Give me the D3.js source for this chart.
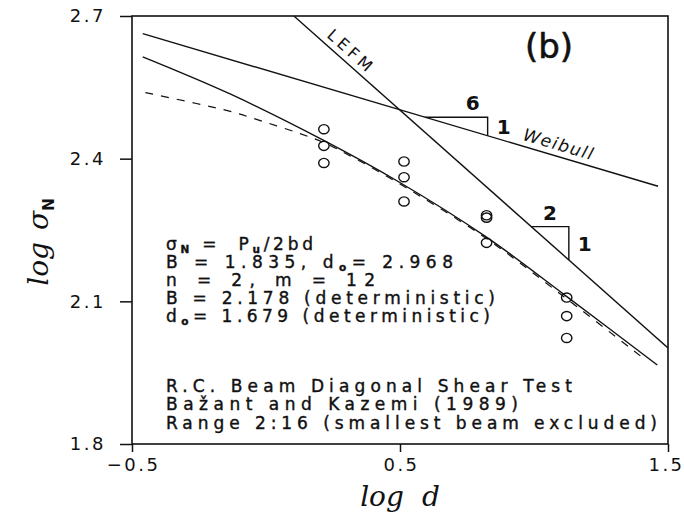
<!DOCTYPE html>
<html>
<head>
<meta charset="utf-8">
<script src="https://cdn.jsdelivr.net/npm/d3@7"></script>
<style>
  body { margin: 0; background: #fff; }
  svg { display: block; }
</style>
</head>
<body>
<svg id="chart" width="684" height="517"></svg>
<script>
// ---------------- data ----------------
const xTicks = [-0.5, 0.5, 1.5];
const yTicks = [1.8, 2.1, 2.4, 2.7];

// test data (log d, log sigma_N)
const beamLogD     = [0.216, 0.216, 0.216, 0.515, 0.515, 0.515, 0.823, 0.823, 0.823, 1.122, 1.122, 1.122];
const beamLogSigma = [2.462, 2.427, 2.391, 2.394, 2.361, 2.310, 2.281, 2.276, 2.223, 2.108, 2.069, 2.023];

// deterministic size effect law (solid curve)
const detLogD     = [-0.46, -0.13, 0.21, 0.49, 0.82, 1.12, 1.46];
const detLogSigma = [2.614, 2.535, 2.440, 2.353, 2.236, 2.111, 1.966];

// statistical fit (dashed curve)
const statLogD     = [-0.45, -0.26, -0.13, -0.01, 0.115, 0.215, 0.33, 0.49, 0.82, 1.12, 1.40];
const statLogSigma = [2.539, 2.516, 2.499, 2.478, 2.455, 2.434, 2.401, 2.350, 2.233, 2.106, 1.984];

// asymptotes
const weibullLogD     = [-0.46, 1.463];
const weibullLogSigma = [2.663, 2.342];
const lefmLogD        = [0.104, 1.5];
const lefmLogSigma    = [2.700, 2.002];

// slope triangles: horizontal leg from x0 to x1 on the given asymptote
const triLine   = ["weibull", "lefm"];
const triX0     = [0.593, 0.990];
const triX1     = [0.827, 1.130];
const triRun    = ["6", "2"];
const triRise   = ["1", "1"];

// annotation text
const noteTop = [
  [["σ"], ["N", "sub"], [" =  P"], ["u", "sub"], ["/2bd"]],
  [["B = 1.835, d"], ["o", "sub"], ["= 2.968"]],
  [["n = 2, m = 12"]],
  [["B = 2.178 (deterministic)"]],
  [["d"], ["o", "sub"], ["= 1.679 (deterministic)"]]
];
const noteBottom = [
  [["R.C. Beam Diagonal Shear Test"]],
  [["Bažant and Kazemi (1989)"]],
  [["Range 2:16 (smallest beam excluded)"]]
];
const panelLabel = "(b)";

// ---------------- layout ----------------
const L = 132, R = 668, T = 16, B = 444;
const noteX = 166;
const noteTopBase = [250, 268, 286, 304, 322];
const noteTopWidth = [147, 287, 209, 329, 324];
const noteBotBase = [392, 410, 429];
const noteBotWidth = [406, 352, 491];

const svg = d3.select("#chart");
const x = d3.scaleLinear().domain([-0.5, 1.5]).range([L, R]);
const y = d3.scaleLinear().domain([1.8, 2.7]).range([B, T]);

const ink = "#111";

// frame
svg.append("rect")
  .attr("x", L).attr("y", T).attr("width", R - L).attr("height", B - T)
  .attr("fill", "none").attr("stroke", ink).attr("stroke-width", 1.6);

// axes
const fmt = d3.format(".1f");
const gx = svg.append("g").attr("transform", `translate(0,${B})`)
  .call(d3.axisBottom(x).tickValues(xTicks).tickSize(8).tickPadding(6).tickFormat(fmt));
const gy = svg.append("g").attr("transform", `translate(${L},0)`)
  .call(d3.axisLeft(y).tickValues(yTicks).tickSize(12).tickPadding(14).tickFormat(fmt));
[gx, gy].forEach(g => {
  g.select(".domain").remove();
  g.selectAll(".tick line").attr("stroke", ink).attr("stroke-width", 1.5);
  g.selectAll(".tick text")
    .attr("fill", ink)
    .style("font-family", "'DejaVu Sans', sans-serif")
    .style("font-size", "18px")
    .style("letter-spacing", "2.5px");
});
gx.selectAll(".tick text").attr("dx", (d, i) => i === xTicks.length - 1 ? "-2px" : "1px");

// axis titles
const xt = svg.append("text")
  .attr("x", 400).attr("y", 506)
  .attr("text-anchor", "middle")
  .style("font-family", "'DejaVu Serif', serif")
  .style("font-style", "italic")
  .style("font-size", "28px")
  .attr("fill", ink);
xt.append("tspan").text("log");
xt.append("tspan").attr("dx", 18).text("d");

const yt = svg.append("text")
  .attr("transform", "translate(48,242) rotate(-90)")
  .attr("text-anchor", "middle")
  .style("font-family", "'DejaVu Serif', serif")
  .style("font-style", "italic")
  .style("font-size", "28px")
  .attr("fill", ink);
yt.append("tspan").text("log");
yt.append("tspan").attr("dx", 12).text("σ");
yt.append("tspan").attr("dy", 6).style("font-size", "15px").style("font-style", "normal")
  .style("font-family", "'DejaVu Sans', sans-serif").style("font-weight", "bold").text("N");

// lines
svg.append("clipPath").attr("id", "plotclip")
  .append("rect").attr("x", L).attr("y", T).attr("width", R - L).attr("height", B - T);
const plot = svg.append("g").attr("clip-path", "url(#plotclip)");

const straight = d3.line().x(d => x(d[0])).y(d => y(d[1]));
const smooth = d3.line().x(d => x(d[0])).y(d => y(d[1])).curve(d3.curveCatmullRom.alpha(0.5));

const weib = weibullLogD.map((v, i) => [v, weibullLogSigma[i]]);
const lefm = lefmLogD.map((v, i) => [v, lefmLogSigma[i]]);
const det = detLogD.map((v, i) => [v, detLogSigma[i]]);
const stat = statLogD.map((v, i) => [v, statLogSigma[i]]);

plot.append("path").datum(weib).attr("d", straight)
  .attr("fill", "none").attr("stroke", ink).attr("stroke-width", 1.4);
plot.append("path").datum(lefm).attr("d", straight)
  .attr("fill", "none").attr("stroke", ink).attr("stroke-width", 1.4);
plot.append("path").datum(det).attr("d", smooth)
  .attr("fill", "none").attr("stroke", ink).attr("stroke-width", 1.4);
plot.append("path").datum(stat).attr("d", smooth)
  .attr("fill", "none").attr("stroke", ink).attr("stroke-width", 1.2)
  .attr("stroke-dasharray", "8,8");

// data points
plot.selectAll("ellipse.pt").data(beamLogD.map((v, i) => [v, beamLogSigma[i]]))
  .enter().append("ellipse").attr("class", "pt")
  .attr("cx", d => x(d[0])).attr("cy", d => y(d[1]))
  .attr("rx", 5.2).attr("ry", 4.6)
  .attr("fill", "none").attr("stroke", ink).attr("stroke-width", 1.4);

// slope triangles
const lines = { weibull: weib, lefm: lefm };
function lineY(pts, xv) {
  const [p0, p1] = pts;
  return p0[1] + (p1[1] - p0[1]) * (xv - p0[0]) / (p1[0] - p0[0]);
}
triLine.forEach((ln, i) => {
  const pts = lines[ln];
  const ya = lineY(pts, triX0[i]);
  const yb = lineY(pts, triX1[i]);
  const px0 = x(triX0[i]), px1 = x(triX1[i]), pya = y(ya), pyb = y(yb);
  svg.append("path")
    .attr("d", `M${px0},${pya}H${px1}V${pyb}`)
    .attr("fill", "none").attr("stroke", ink).attr("stroke-width", 1.4);
  svg.append("text")
    .attr("x", i === 0 ? px1 - 15 : (px0 + px1) / 2)
    .attr("y", pya - 7)
    .attr("text-anchor", "middle")
    .style("font-family", "'DejaVu Sans', sans-serif").style("font-weight", "bold")
    .style("font-size", "20px").attr("fill", ink)
    .text(triRun[i]);
  svg.append("text")
    .attr("x", px1 + 9)
    .attr("y", (pya + pyb) / 2 + 8)
    .attr("text-anchor", "start")
    .style("font-family", "'DejaVu Sans', sans-serif").style("font-weight", "bold")
    .style("font-size", "20px").attr("fill", ink)
    .text(triRise[i]);
});

// rotated labels on asymptotes
function labelOnLine(pts, xv, offset, txt, style) {
  const a = [x(pts[0][0]), y(pts[0][1])], b = [x(pts[1][0]), y(pts[1][1])];
  const ang = Math.atan2(b[1] - a[1], b[0] - a[0]);
  const px = x(xv), py = y(lineY(pts, xv));
  const t = svg.append("text")
    .attr("transform", `translate(${px},${py}) rotate(${ang * 180 / Math.PI}) translate(0,${-offset})`)
    .attr("text-anchor", "middle").attr("fill", ink)
    .text(txt);
  Object.entries(style).forEach(([k, v]) => t.style(k, v));
}
labelOnLine(lefm, 0.29, 6, "LEFM", {
  "font-family": "'DejaVu Sans', sans-serif", "font-size": "16px", "letter-spacing": "4px"
});
labelOnLine(weib, 1.08, 6, "Weibull", {
  "font-family": "'DejaVu Sans', sans-serif", "font-size": "17px", "font-style": "italic", "letter-spacing": "1.5px"
});

// panel label
svg.append("text").attr("x", 549).attr("y", 58).attr("text-anchor", "middle")
  .style("font-family", "'DejaVu Sans', sans-serif").style("font-size", "34px")
  .attr("stroke", ink).attr("stroke-width", 0.6)
  .attr("fill", ink).text(panelLabel);

// notes
function writeNote(lines, bases, widths) {
  lines.forEach((segs, i) => {
    const t = svg.append("text").attr("x", noteX).attr("y", bases[i])
      .style("font-family", "'DejaVu Sans', sans-serif").style("font-size", "17px")
      .style("white-space", "pre")
      .attr("stroke", ink).attr("stroke-width", 0.4)
      .attr("fill", ink);
    let n = 0;
    segs.forEach(([s, kind]) => {
      const ts = t.append("tspan").text(s);
      if (kind === "sub") {
        ts.attr("dy", 3).style("font-size", "10.5px").style("font-weight", "bold");
      } else if (n > 0) {
        ts.attr("dy", segs[n - 1][1] === "sub" ? -3 : 0);
      }
      n++;
    });
    const chars = segs.reduce((a, s) => a + s[0].length, 0);
    const natural = t.node().getComputedTextLength();
    const ls = Math.max(0, (widths[i] - natural) / Math.max(1, chars - 1));
    t.style("letter-spacing", ls + "px");
  });
}
writeNote(noteTop, noteTopBase, noteTopWidth);
writeNote(noteBottom, noteBotBase, noteBotWidth);
</script>
</body>
</html>
